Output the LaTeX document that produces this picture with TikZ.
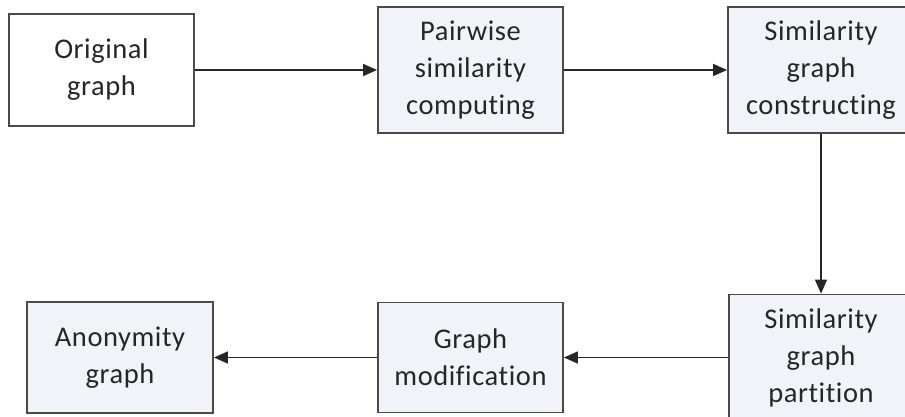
\documentclass[tikz,border=0pt]{standalone}
\usepackage{fontspec}
\setmainfont{Carlito}[Ligatures=NoCommon, LetterSpace=2]
\usetikzlibrary{arrows.meta}
\definecolor{boxfill}{HTML}{F1F3F8}
\definecolor{boxline}{HTML}{4A4A4A}
\definecolor{txt}{HTML}{262626}
\begin{document}
\begin{tikzpicture}[x=1pt,y=-1pt,
  stage/.style={draw=boxline, line width=1.8pt, fill=boxfill, rectangle, inner sep=0pt,
    align=center, text=txt, font=\fontsize{28.5}{37}\selectfont},
  flow/.style={draw=black!85, line width=1.4pt, -{Triangle[length=14pt,width=12pt]}}]
\useasboundingbox (0,0) rectangle (905,417);
\node[stage, fill=white, minimum width=185pt, minimum height=112pt] (orig) at (101.5,70) {Original\\graph};
\node[stage, minimum width=185pt, minimum height=126pt] (pair) at (470.5,70) {Pairwise\\similarity\\computing};
\node[stage, minimum width=186pt, minimum height=126pt] (cons) at (821,70) {Similarity\\graph\\constructing};
\node[stage, minimum width=184pt, minimum height=126pt] (part) at (821,357.5) {Similarity\\graph\\partition};
\node[stage, minimum width=185pt, minimum height=110pt] (gmod) at (470.5,357.5) {Graph\\modification};
\node[stage, minimum width=186pt, minimum height=111pt] (anon) at (120,357.5) {Anonymity\\graph};
\draw[flow] (orig) -- (pair);
\draw[flow] (pair) -- (cons);
\draw[flow] (cons) -- (part);
\draw[flow] (part) -- (gmod);
\draw[flow] (gmod) -- (anon);
\end{tikzpicture}
\end{document}
